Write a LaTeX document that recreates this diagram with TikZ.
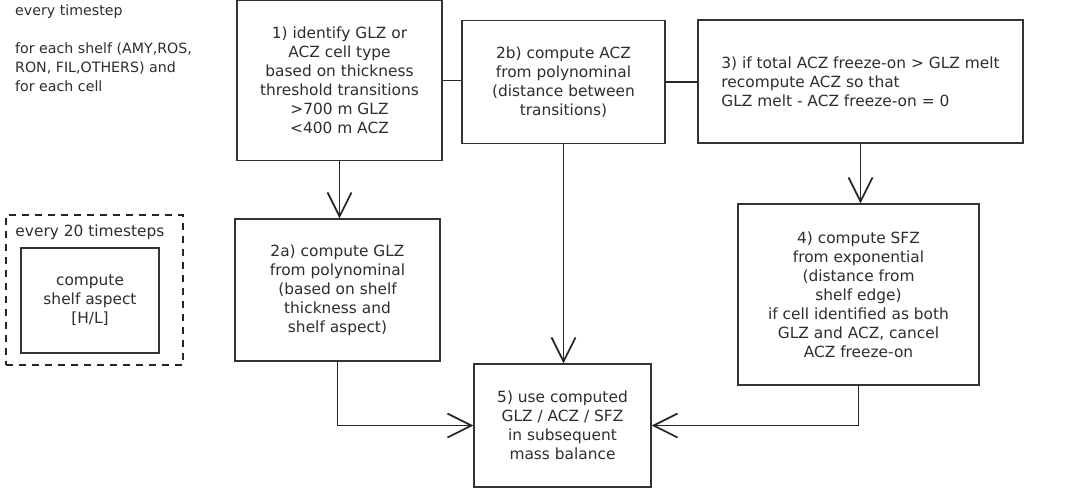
\documentclass[tikz,border=0pt]{standalone}
\usepackage{fontspec}
\setmainfont{DejaVu Sans}
\usetikzlibrary{arrows.meta}
\begin{document}
\begin{tikzpicture}[x=1pt,y=-1pt,
  every node/.style={font=\fontsize{15.4pt}{19pt}\selectfont, text=black!82},
  box/.style={draw=black!80, line width=1.4pt, rectangle, align=center, inner sep=0pt},
  arr/.style={draw=black!85, line width=1.7pt, -{Straight Barb[length=24pt,width=24pt,line width=1.7pt]}},
  link/.style={draw=black!85, line width=1.7pt}]
\useasboundingbox[fill=white] (0,0) rectangle (1067,491);

\node[anchor=west, align=left, inner sep=0pt, font=\fontsize{14.2pt}{19pt}\selectfont] (note) at (15,48) {every timestep\\[19pt]for each shelf (AMY,ROS,\\RON, FIL,OTHERS) and\\for each cell};

\node[box, minimum width=205pt, minimum height=160pt] (b1) at (339.5,80.5) {1) identify GLZ or\\ACZ cell type\\based on thickness\\threshold transitions\\>700 m GLZ\\<400 m ACZ};
\node[box, minimum width=203pt, minimum height=123pt] (b2b) at (563.5,82) {2b) compute ACZ\\from polynominal\\(distance between\\transitions)};
\node[box, minimum width=325pt, minimum height=123pt, align=left] (b3) at (860.5,81.5) {3) if total ACZ freeze-on > GLZ melt\\recompute ACZ so that\\GLZ melt - ACZ freeze-on = 0};
\node[box, minimum width=205pt, minimum height=142pt] (b2a) at (337.5,290) {2a) compute GLZ\\from polynominal\\(based on shelf\\thickness and\\shelf aspect)};
\node[box, minimum width=241pt, minimum height=181pt] (b4) at (858.5,294.5) {4) compute SFZ\\from exponential\\(distance from\\shelf edge)\\if cell identified as both\\GLZ and ACZ, cancel\\ACZ freeze-on};
\node[box, minimum width=177pt, minimum height=123pt] (b5) at (562.5,425.5) {5) use computed\\GLZ / ACZ / SFZ\\in subsequent\\mass balance};

\node[draw=black!85, line width=2pt, dash pattern=on 7pt off 6pt, minimum width=177pt, minimum height=150pt, inner sep=0pt] (dash) at (94.5,290) {};
\node (every20) at (90,232) {every 20 timesteps};
\node[box, minimum width=138pt, minimum height=105pt] (aspect) at (90,300.5) {compute\\shelf aspect\\{[H/L]}};

\draw[link] (b1.east) -- (b1.east -| b2b.west);
\draw[link] (b2b.east) -- (b2b.east -| b3.west);
\draw[arr] (b1.south) -- (b1.south |- b2a.north);
\draw[arr] (b2b.south) -- (b2b.south |- b5.north);
\draw[arr] (b3.south) -- (b3.south |- b4.north);
\draw[arr] (b2a.south) |- (b5.west);
\draw[arr] (b4.south) |- (b5.east);
\end{tikzpicture}
\end{document}
